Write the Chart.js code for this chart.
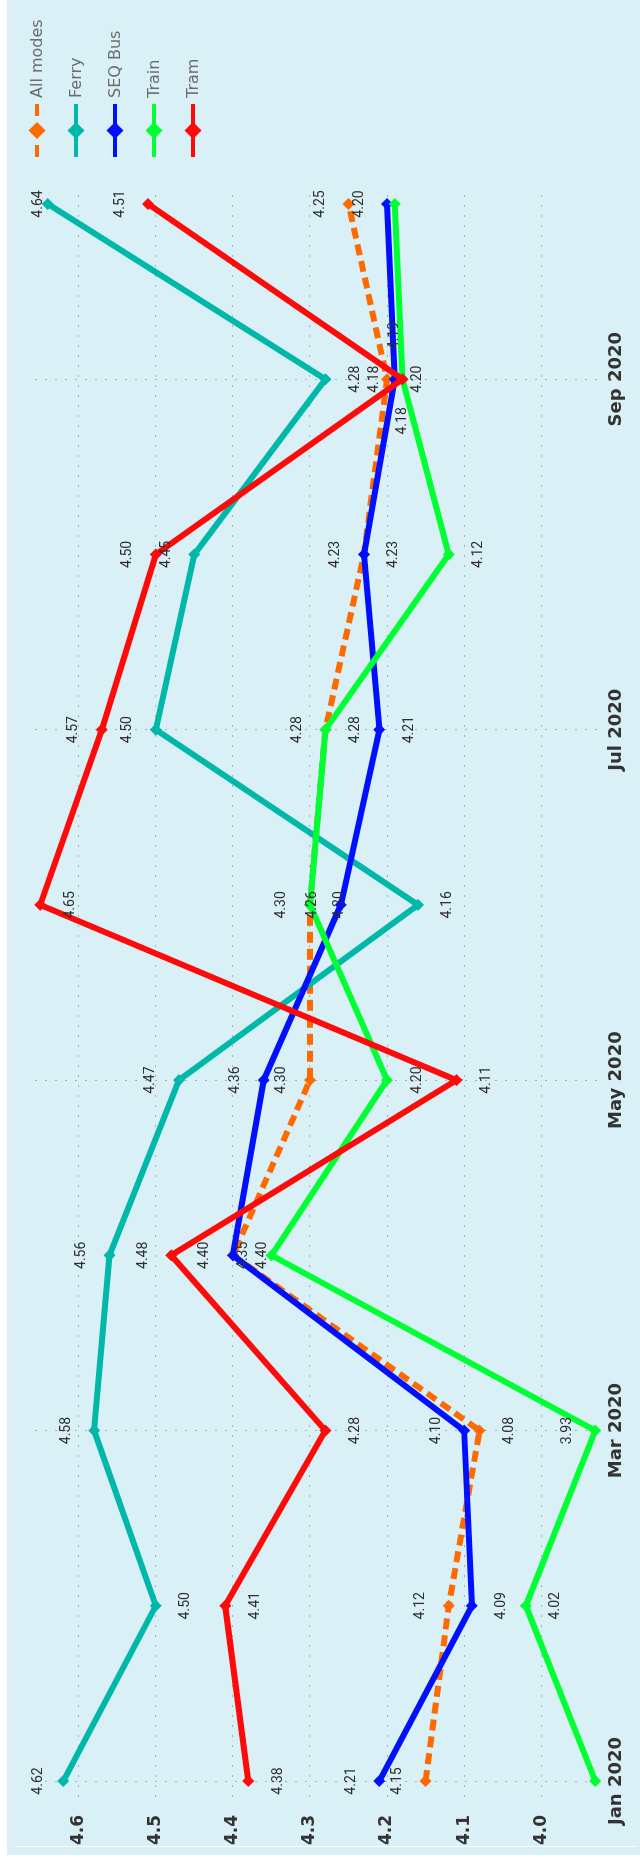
<!DOCTYPE html>
<html>
<head>
<meta charset="utf-8">
<script src="https://cdn.jsdelivr.net/npm/chart.js@4.4.1/dist/chart.umd.min.js"></script>
<style>
    html, body { margin: 0; padding: 0; background: #fff; }
    body { width: 640px; height: 1861px; position: relative; overflow: hidden; }
    #panel { position: absolute; left: 7px; top: 0; width: 633px; height: 1855px; background: #daf0f7; }
    #edge { position: absolute; left: 16px; top: 1846px; width: 621px; height: 1px; background: rgba(255, 255, 255, 0.85); }
    /* chart is drawn landscape, then turned a quarter to the left */
    #chart { position: absolute; left: 0; top: 0; transform-origin: 0 0; transform: translateY(1861px) rotate(-90deg); }
</style>
</head>
<body>
<div id="panel"></div>
<div id="edge"></div>
<canvas id="chart" width="1861" height="640"></canvas>
<script>
const months = ['Jan 2020', 'Feb 2020', 'Mar 2020', 'Apr 2020', 'May 2020',
                'Jun 2020', 'Jul 2020', 'Aug 2020', 'Sep 2020', 'Oct 2020'];
const allModes = [4.15, 4.12, 4.08, 4.40, 4.30, 4.30, 4.28, 4.23, 4.20, 4.25];
const ferry    = [4.62, 4.50, 4.58, 4.56, 4.47, 4.16, 4.50, 4.45, 4.28, 4.64];
const seqBus   = [4.21, 4.09, 4.10, 4.40, 4.36, 4.26, 4.21, 4.23, 4.19, 4.20];
const train    = [3.93, 4.02, 3.93, 4.35, 4.20, 4.30, 4.28, 4.12, 4.18, 4.19];
const tram     = [4.38, 4.41, 4.28, 4.48, 4.11, 4.65, 4.57, 4.50, 4.18, 4.51];
const valueTicks = [4.0, 4.1, 4.2, 4.3, 4.4, 4.5, 4.6];
const monthTicks = [0, 2, 4, 6, 8];   // only every other month is labelled

// where each data label sits: a = above, b = below, l = left, r = right, '' = hidden
const labelSide = {
    'All modes': ['a', 'a', 'b', 'a', 'a', 'a', 'a', 'a', 'b', 'a'],
    'Ferry':     ['a', 'b', 'a', 'a', 'a', 'b', 'a', 'a', 'b', 'a'],
    'SEQ Bus':   ['a', 'b', 'a', 'b', 'a', 'a', 'b', 'b', 'r', 'a'],
    'Train':     ['',  'b', 'a', 'a', 'b', 'b', 'b', 'b', 'l', ''],
    'Tram':      ['b', 'b', 'b', 'a', 'b', 'b', 'a', 'a', 'a', 'a']
};

const toPoints = arr => arr.map((v, i) => ({ x: i, y: v }));

function series(label, values, color, order, dash) {
    return {
        label: label,
        data: toPoints(values),
        borderColor: color,
        backgroundColor: color,
        borderWidth: 6,
        borderDash: dash || [],
        pointStyle: 'rectRot',
        pointRadius: 6,
        pointBorderWidth: 0,
        tension: 0,
        clip: false,
        order: order
    };
}

const pointLabels = {
    id: 'pointLabels',
    afterDatasetsDraw(chart) {
        const ctx = chart.ctx;
        const area = chart.chartArea;
        ctx.save();
        ctx.font = '14px Roboto';
        ctx.fillStyle = '#2e2e2e';
        ctx.textBaseline = 'middle';
        chart.data.datasets.forEach((ds, di) => {
            const sides = labelSide[ds.label];
            chart.getDatasetMeta(di).data.forEach((pt, i) => {
                const side = sides[i];
                if (!side) return;
                let x = pt.x, y = pt.y;
                ctx.textAlign = 'center';
                if (side === 'a') y = Math.max(pt.y - 28, area.top + 3);
                else if (side === 'b') y = pt.y + 30;
                else if (side === 'r') { ctx.textAlign = 'left'; x = pt.x + 30; }
                else if (side === 'l') { ctx.textAlign = 'right'; x = pt.x - 28; }
                ctx.fillText(ds.data[i].y.toFixed(2), x, y);
            });
        });
        ctx.restore();
    }
};

// legend drawn by hand: a short line with a diamond, label after it
const sideLegend = {
    id: 'sideLegend',
    afterDraw(chart) {
        const ctx = chart.ctx;
        const x0 = chart.chartArea.right + 30;
        ctx.save();
        ctx.font = '16px "DejaVu Sans"';
        ctx.textBaseline = 'middle';
        ctx.textAlign = 'left';
        chart.data.datasets.forEach((ds, i) => {
            const y = 37 + i * 39;
            ctx.strokeStyle = ds.borderColor;
            ctx.lineWidth = 4;
            ctx.beginPath();
            if (ds.borderDash.length) {
                ctx.moveTo(x0, y); ctx.lineTo(x0 + 12, y);
                ctx.moveTo(x0 + 41, y); ctx.lineTo(x0 + 53, y);
            } else {
                ctx.moveTo(x0, y); ctx.lineTo(x0 + 53, y);
            }
            ctx.stroke();
            const cx = x0 + 26.5, r = 8.5;
            ctx.fillStyle = ds.borderColor;
            ctx.beginPath();
            ctx.moveTo(cx - r, y); ctx.lineTo(cx, y - r);
            ctx.lineTo(cx + r, y); ctx.lineTo(cx, y + r);
            ctx.closePath();
            ctx.fill();
            ctx.fillStyle = '#6b6b6b';
            ctx.fillText(ds.label, x0 + 59, y + 1);
        });
        ctx.restore();
    }
};

const gridLook = { color: 'rgba(120, 125, 130, 0.55)', lineWidth: 1, drawTicks: false };

new Chart(document.getElementById('chart'), {
    type: 'line',
    data: {
        datasets: [
            series('All modes', allModes, '#ff6a00', 5, [11, 6]),
            series('Ferry', ferry, '#00b8aa', 4),
            series('SEQ Bus', seqBus, '#0010ff', 3),
            series('Train', train, '#00ff33', 2),
            series('Tram', tram, '#ff0a0a', 1)
        ]
    },
    options: {
        responsive: false,
        animation: false,
        devicePixelRatio: 1,
        layout: { padding: { left: 0, right: 187, top: 35, bottom: 0 } },
        plugins: { legend: { display: false }, tooltip: { enabled: false } },
        scales: {
            x: {
                type: 'linear',
                min: -0.0913,
                max: 9.097,
                afterBuildTicks: s => { s.ticks = monthTicks.map(v => ({ value: v })); },
                afterFit: s => { s.height = 40; },
                grid: gridLook,
                border: { display: false, dash: [2, 8] },
                ticks: {
                    padding: 6,
                    color: '#333333',
                    font: { family: 'DejaVu Sans', size: 18, weight: 'bold' },
                    maxRotation: 0,
                    callback: v => months[v]
                }
            },
            y: {
                min: 3.9238,
                max: 4.6567,
                afterBuildTicks: s => { s.ticks = valueTicks.map(v => ({ value: v })); },
                afterFit: s => { s.width = 64; },
                grid: gridLook,
                border: { display: false, dash: [2, 8] },
                ticks: {
                    padding: 18,
                    color: '#333333',
                    font: { family: 'DejaVu Sans', size: 17, weight: 'bold' },
                    callback: v => v.toFixed(1)
                }
            }
        }
    },
    plugins: [pointLabels, sideLegend]
});
</script>
</body>
</html>
